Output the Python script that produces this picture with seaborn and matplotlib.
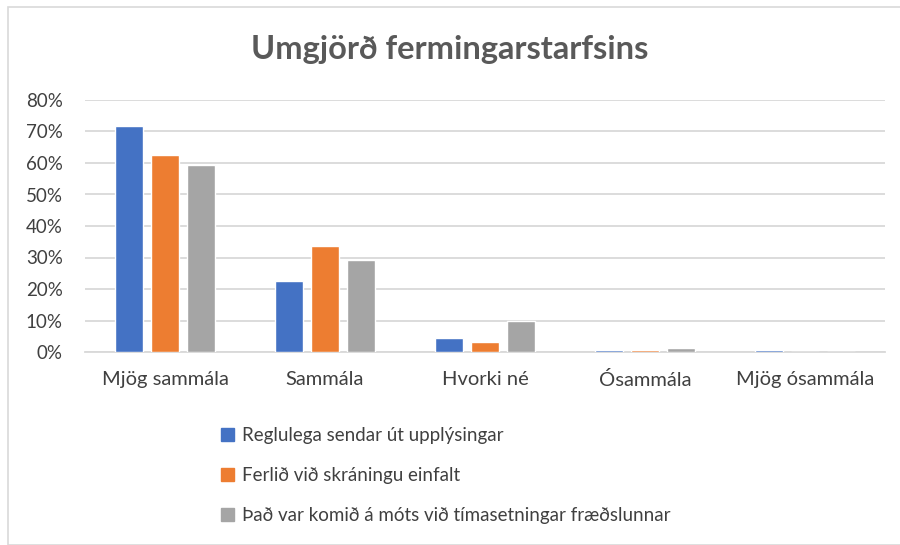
import pandas as pd
import numpy as np
import matplotlib.pyplot as plt
import seaborn as sns
from matplotlib.patches import Rectangle
from matplotlib.ticker import PercentFormatter

categories = ["Mjög sammála", "Sammála", "Hvorki né", "Ósammála", "Mjög ósammála"]
series = [
    "Reglulega sendar út upplýsingar",
    "Ferlið við skráningu einfalt",
    "Það var komið á móts við tímasetningar fræðslunnar",
]
reglulega = [71.7, 22.5, 4.4, 0.5, 0.5]
ferlid = [62.5, 33.6, 3.2, 0.7, 0.0]
timasetning = [59.4, 29.2, 9.8, 1.2, 0.0]
colors = ["#4472c4", "#ed7d31", "#a5a5a5"]

df = pd.DataFrame({
    "Flokkur": categories * 3,
    "Röð": [series[0]] * 5 + [series[1]] * 5 + [series[2]] * 5,
    "Hlutfall": reglulega + ferlid + timasetning,
})

sns.set_style("white")
plt.rcParams["font.family"] = ["Lato", "DejaVu Sans"]

fig = plt.figure(figsize=(9, 5.45), dpi=100)
ax = fig.add_axes([85 / 900, 1 - 352 / 545, 800 / 900, 252 / 545])

sns.barplot(
    data=df,
    x="Flokkur",
    y="Hlutfall",
    hue="Röð",
    palette=colors,
    width=0.675,
    gap=0.22,
    saturation=1,
    ax=ax,
    legend=False,
    zorder=3,
)

ax.set_ylim(0, 80)
ax.set_yticks(np.arange(0, 81, 10))
ax.yaxis.set_major_formatter(PercentFormatter(decimals=0))
ax.grid(axis="y", color="#d9d9d9", linewidth=1.3, zorder=0)
ax.set_axisbelow(True)
for s in ["top", "right", "left"]:
    ax.spines[s].set_visible(False)
ax.spines["bottom"].set_color("#d9d9d9")
ax.spines["bottom"].set_linewidth(1.3)
ax.spines["bottom"].set_zorder(1)
ax.tick_params(axis="both", length=0, labelcolor="#404040")
ax.tick_params(axis="y", labelsize=13.5, pad=16)
ax.tick_params(axis="x", labelsize=14.5, pad=14)
ax.set_xlabel("")
ax.set_ylabel("")

fig.text(0.5, 1 - 50 / 545, "Umgjörð fermingarstarfsins", ha="center", va="center",
         fontsize=23.5, fontweight="bold", color="#595959")

handles = [Rectangle((0, 0), 1, 1, color=c) for c in colors]
fig.legend(handles, series, loc="upper left", bbox_to_anchor=(204 / 900, 1 - 410 / 545),
           frameon=False, fontsize=13.5, labelcolor="#404040", labelspacing=1.22,
           handlelength=0.7, handleheight=0.7, handletextpad=0.4)

fig.patches.append(Rectangle((8 / 900, 0), 1, 1 - 7 / 545, transform=fig.transFigure,
                             fill=False, edgecolor="#d9d9d9", linewidth=1.2))

fig.savefig("out.png", dpi=100)
